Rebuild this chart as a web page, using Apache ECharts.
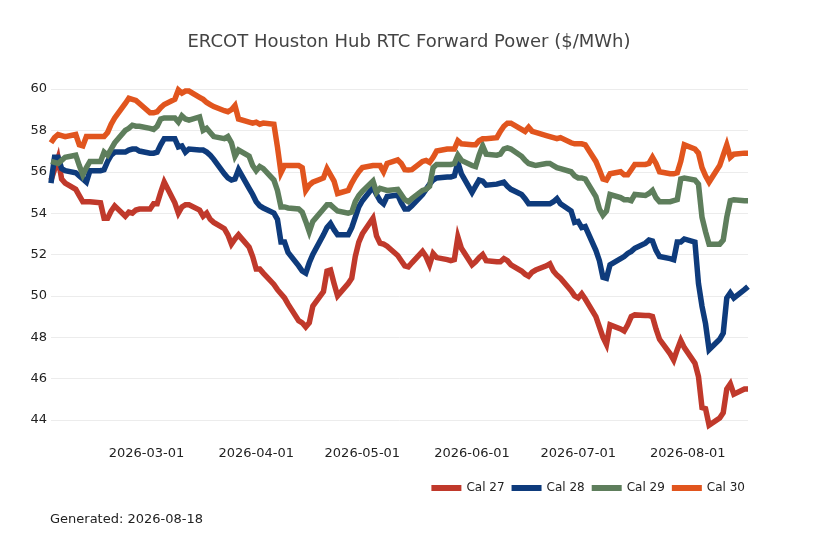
<!DOCTYPE html>
<html>
<head>
    <meta charset="UTF-8">
    <title>ERCOT Houston Hub RTC Forward Power</title>
    <script src="https://cdn.jsdelivr.net/npm/echarts@6.0.0/dist/echarts.min.js"></script>
    <style>
        html, body { margin: 0; padding: 0; background: #fff; }
        #chart { width: 818px; height: 545px; }
    </style>
</head>
<body>
    <div id="chart"></div>

    <script>
        // trade dates: business days 2026-02-02 .. 2026-08-18
        const firstDay = [2026, 1, 2];
        const lastDay = [2026, 7, 18];
        const monthTicks = ['2026-03-01', '2026-04-01', '2026-05-01', '2026-06-01', '2026-07-01', '2026-08-01'];
        const seriesNames = ['Cal 27', 'Cal 28', 'Cal 29', 'Cal 30'];

        const cal27 = [
            55.6, 56.1, 56.65, 55.65, 55.45,
            55.15, 54.85, 54.55, 54.55, 54.55,
            54.5, 53.75, 53.75, 54.1, 54.35,
            53.85, 54.05, 54.0, 54.15, 54.2,
            54.2, 54.45, 54.45, 55.0, 55.5,
            54.5, 54.0, 54.3, 54.4, 54.4,
            54.15, 53.85, 54.0, 53.7, 53.55,
            53.25, 52.95, 52.5, 52.75, 52.95,
            52.35, 51.9, 51.3, 51.3, 51.1,
            50.55, 50.3, 50.1, 49.9, 49.6,
            48.8, 48.7, 48.5, 48.7, 49.5,
            50.2, 51.2, 51.25, 50.6, 50.0,
            50.6, 50.85, 51.9, 52.6, 53.0,
            53.75, 52.9, 52.55, 52.5, 52.4,
            51.95, 51.7, 51.45, 51.4, 51.6,
            52.15, 51.9, 51.5, 52.05, 51.85,
            51.75, 51.7, 51.75, 52.85, 52.3,
            51.5, 51.65, 51.85, 52.0, 51.7,
            51.65, 51.65, 51.8, 51.7, 51.5,
            51.2, 51.05, 50.95, 51.15, 51.25,
            51.45, 51.55, 51.2, 51.0, 50.85,
            50.25, 50.0, 49.9, 50.1, 49.85,
            49.0, 48.5, 48.0, 47.65, 48.6,
            48.4, 48.3, 48.6, 49.0, 49.08,
            49.05, 49.05, 49.0, 48.4, 47.9,
            47.2, 46.9, 47.4, 47.85, 47.5,
            46.75, 46.1, 44.6, 44.55, 43.75,
            44.1, 44.35, 45.5, 45.75, 45.25,
            45.5, 45.5
        ];
        const cal28 = [
            55.45, 56.7, 56.7, 56.15, 56.05,
            55.95, 55.8, 55.65, 55.5, 56.05,
            56.05, 56.1, 56.5, 56.8, 56.95,
            56.95, 57.05, 57.1, 57.1, 57.0,
            56.9, 56.9, 56.95, 57.3, 57.6,
            57.6, 57.2, 57.25, 56.95, 57.1,
            57.05, 57.05, 56.95, 56.8, 56.6,
            55.9, 55.7, 55.6, 55.65, 56.1,
            55.2, 54.9, 54.55, 54.35, 54.25,
            54.0, 53.7, 52.6, 52.6, 52.1,
            51.45, 51.2, 51.1, 51.6, 52.0,
            52.95, 53.3, 53.5, 53.2, 52.95,
            52.95, 53.3, 53.8, 54.3, 54.6,
            55.25, 54.9, 54.6, 54.45, 54.8,
            54.88, 54.5, 54.2, 54.2, 54.35,
            54.9, 55.15, 55.4, 55.6, 55.7,
            55.75, 55.75, 55.8, 56.45, 55.9,
            55.0, 55.3, 55.6, 55.55, 55.35,
            55.4, 55.45, 55.5, 55.3, 55.15,
            54.9, 54.7, 54.45, 54.45, 54.45,
            54.45, 54.45, 54.55, 54.7, 54.45,
            54.1, 53.55, 53.6, 53.3, 53.35,
            52.2, 51.7, 50.9, 50.85, 51.5,
            51.8, 51.9, 52.05, 52.15, 52.3,
            52.55, 52.7, 52.65, 52.2, 51.9,
            51.8, 51.75, 52.6, 52.6, 52.75,
            52.6, 50.6, 49.5, 48.65, 47.4,
            47.9, 48.2, 49.9, 50.15, 49.9,
            50.3, 50.45
        ];
        const cal29 = [
            56.5, 56.45, 56.4, 56.55, 56.7,
            56.8, 56.3, 55.85, 56.2, 56.5,
            56.5, 56.95, 56.8, 57.1, 57.4,
            58.0, 58.1, 58.25, 58.2, 58.2,
            58.1, 58.05, 58.2, 58.55, 58.6,
            58.6, 58.4, 58.7, 58.55, 58.5,
            58.65, 58.0, 58.1, 57.9, 57.7,
            57.6, 57.7, 57.4, 56.75, 57.05,
            56.75, 56.3, 56.05, 56.25, 56.15,
            55.6, 55.1, 54.3, 54.3, 54.25,
            54.2, 54.05, 53.6, 53.1, 53.6,
            54.2, 54.4, 54.4, 54.25, 54.1,
            54.0, 54.05, 54.55, 54.85, 55.05,
            55.55, 55.0, 55.2, 55.15, 55.1,
            55.15, 54.9, 54.65, 54.55, 54.7,
            55.1, 55.15, 55.3, 56.2, 56.35,
            56.35, 56.35, 56.4, 56.8, 56.55,
            56.3, 56.25, 56.8, 57.25, 56.85,
            56.8, 56.85, 57.1, 57.15, 57.1,
            56.75, 56.55, 56.4, 56.35, 56.3,
            56.4, 56.4, 56.3, 56.2, 56.15,
            56.0, 55.8, 55.7, 55.7, 55.65,
            54.8, 54.2, 53.9, 54.1, 54.9,
            54.75, 54.65, 54.65, 54.6, 54.9,
            54.85, 54.95, 55.1, 54.75, 54.55,
            54.55, 54.6, 54.65, 55.65, 55.7,
            55.6, 55.4, 53.8, 53.1, 52.5,
            52.5, 52.7, 53.8, 54.6, 54.65,
            54.6, 54.6
        ];
        const cal30 = [
            57.4, 57.65, 57.8, 57.75, 57.7,
            57.8, 57.3, 57.25, 57.7, 57.7,
            57.7, 57.7, 57.9, 58.3, 58.6,
            59.3, 59.55, 59.5, 59.45, 59.3,
            58.85, 58.85, 58.9, 59.1, 59.25,
            59.5, 59.95, 59.8, 59.9, 59.9,
            59.6, 59.5, 59.35, 59.25, 59.15,
            58.95, 58.9, 59.0, 59.2, 58.55,
            58.4, 58.35, 58.4, 58.3, 58.35,
            58.3, 57.2, 55.95, 56.3, 56.3,
            56.3, 56.2, 55.1, 55.35, 55.5,
            55.7, 56.15, 55.85, 55.55, 54.95,
            55.1, 55.45, 55.75, 56.0, 56.2,
            56.3, 56.3, 56.3, 56.0, 56.4,
            56.57, 56.4, 56.1, 56.08, 56.1,
            56.5, 56.55, 56.45, 56.7, 57.0,
            57.1, 57.1, 57.1, 57.5, 57.35,
            57.3, 57.3, 57.5, 57.6, 57.6,
            57.65, 57.95, 58.2, 58.35, 58.35,
            58.05, 57.95, 58.15, 57.95, 57.9,
            57.75, 57.7, 57.65, 57.6, 57.65,
            57.4, 57.35, 57.35, 57.35, 57.3,
            56.5, 56.1, 55.65, 55.6, 55.9,
            56.0, 55.85, 55.85, 56.1, 56.35,
            56.35, 56.4, 56.7, 56.4, 56.0,
            55.9, 55.9, 55.95, 56.5, 57.3,
            57.1, 56.9, 56.2, 55.8, 55.5,
            56.3, 56.8, 57.3, 56.7, 56.85,
            56.9, 56.9
        ];
        const colors = ['#c0392b', '#0e3b7c', '#5e7e5c', '#e1551e'];

        function businessDays(a, b) {
            const out = [];
            const d = new Date(a[0], a[1], a[2]);
            const end = new Date(b[0], b[1], b[2]).getTime();
            while (d.getTime() <= end) {
                const wd = d.getDay();
                if (wd !== 0 && wd !== 6) out.push(d.getTime());
                d.setDate(d.getDate() + 1);
            }
            return out;
        }

        function toTime(s) {
            const p = s.split('-').map(Number);
            return new Date(p[0], p[1] - 1, p[2]).getTime();
        }

        function pad(n) { return n < 10 ? '0' + n : '' + n; }
        function fmtDate(v) {
            const d = new Date(v);
            return d.getFullYear() + '-' + pad(d.getMonth() + 1) + '-' + pad(d.getDate());
        }

        const dates = businessDays(firstDay, lastDay);
        const allValues = [cal27, cal28, cal29, cal30];
        const tickTimes = monthTicks.map(toTime);

        const chart = echarts.init(document.getElementById('chart'), null, { renderer: 'canvas' });

        const option = {
            animation: false,
            backgroundColor: '#ffffff',
            textStyle: { fontFamily: 'DejaVu Sans' },
            title: {
                text: 'ERCOT Houston Hub RTC Forward Power ($/MWh)',
                left: 'center',
                top: 28,
                textStyle: { fontSize: 18, fontWeight: 'normal', color: '#444', fontFamily: 'DejaVu Sans' }
            },
            legend: {
                data: seriesNames,
                right: 68,
                top: 477,
                icon: 'rect',
                itemWidth: 30,
                itemHeight: 6,
                itemGap: 7,
                textStyle: { fontSize: 12, color: '#222', fontFamily: 'DejaVu Sans' }
            },
            grid: {
                left: 51,
                right: 70,
                top: 89,
                bottom: 125,
                containLabel: false,
                outerBoundsMode: 'none'
            },
            xAxis: {
                type: 'value',
                min: dates[0],
                max: dates[dates.length - 1],
                axisLine: { show: false },
                axisTick: { show: false },
                splitLine: { show: false },
                axisLabel: {
                    customValues: tickTimes,
                    margin: 27,
                    fontSize: 13,
                    color: '#222',
                    hideOverlap: false,
                    formatter: fmtDate
                }
            },
            yAxis: {
                type: 'value',
                min: 44,
                max: 60,
                interval: 2,
                axisLine: { show: false },
                axisTick: { show: false },
                splitLine: { lineStyle: { color: '#ececec', width: 1 } },
                axisLabel: { fontSize: 13, color: '#222', margin: 4 }
            },
            series: seriesNames.map(function (name, i) {
                return {
                    name: name,
                    type: 'line',
                    data: dates.map(function (t, j) { return [t, allValues[i][j]]; }),
                    showSymbol: false,
                    clip: false,
                    lineStyle: { width: 5.5, color: colors[i], join: 'miter' },
                    itemStyle: { color: colors[i] }
                };
            }),
            graphic: [{
                type: 'text',
                left: 50,
                top: 513,
                style: { text: 'Generated: 2026-08-18', fontSize: 13, fill: '#222', fontFamily: 'DejaVu Sans' }
            }]
        };

        chart.setOption(option);
    </script>
</body>
</html>
